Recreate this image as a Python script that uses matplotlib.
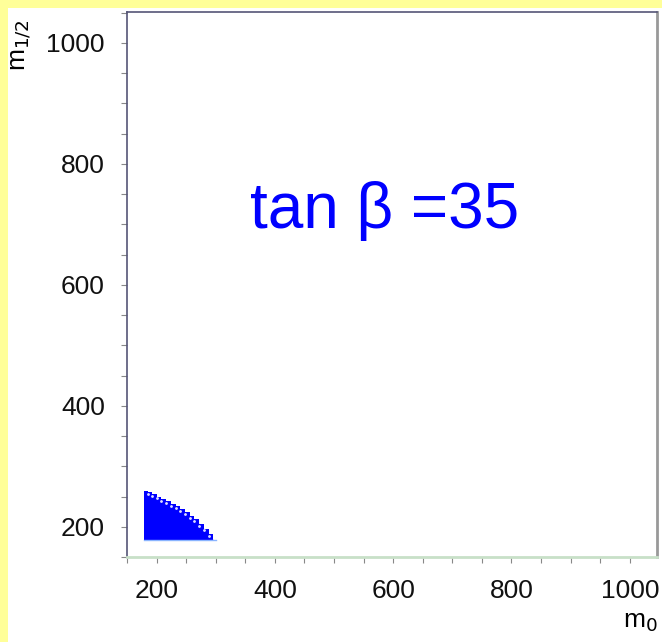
import numpy as np
import matplotlib.pyplot as plt
from matplotlib.patches import Rectangle
from matplotlib.ticker import MultipleLocator

# allowed region boundary (upper edge of the filled area)
m0_edge = [178, 185, 192, 200, 208, 216, 224, 232, 240, 248, 256, 264, 272, 280, 288, 296]
m12_top = [259, 257, 254, 250, 246, 242, 238, 234, 229, 224, 218, 212, 205, 197, 188, 178]
m12_bottom = 178

x_ticks = [200, 400, 600, 800, 1000]
y_ticks = [200, 400, 600, 800, 1000]
x_label = "m$_0$"
y_label = "m$_{1/2}$"
title_text = "tan β =35"

plt.rcParams['font.family'] = ['Liberation Sans', 'DejaVu Sans']

fig = plt.figure(figsize=(6.62, 6.42), dpi=100)
fig.patch.set_facecolor("#ffff99")
# white panel behind the plot
fig.patches.append(Rectangle((8 / 662, 0), 1, 1 - 8 / 642, transform=fig.transFigure,
                             facecolor="white", edgecolor="none", zorder=-1))

ax = fig.add_axes([127 / 662, 85 / 642, 530 / 662, 545 / 642])
ax.set_facecolor("white")

# filled allowed region
ax.fill_between(m0_edge, m12_bottom, m12_top, step="post", color="#0000ff", linewidth=0)
ax.fill_between(m0_edge, m12_bottom, m12_top, color="#0000ff", linewidth=0)
ax.plot(m0_edge[1:-1], np.array(m12_top[1:-1]) - 3, linestyle="none", marker=".",
        markersize=2, color="#ddddff")
ax.plot([178, 301], [m12_bottom, m12_bottom], color="#8ab4ff", linewidth=1)

ax.set_xlim(150, 1046)
ax.set_ylim(150, 1051)
ax.set_xticks(x_ticks)
ax.set_yticks(y_ticks)
ax.xaxis.set_minor_locator(MultipleLocator(50))
ax.yaxis.set_minor_locator(MultipleLocator(50))
ax.tick_params(which="both", direction="out", length=4, width=0.8, colors="#888888",
               labelsize=19, labelcolor="#111111", pad=12)

for side in ["left", "top"]:
    ax.spines[side].set_color("#555577")
    ax.spines[side].set_linewidth(1.2)
ax.spines["top"].set_linestyle((0, (3, 1)))
ax.spines["bottom"].set_color("#c8e0c8")
ax.spines["bottom"].set_linewidth(2)
ax.spines["right"].set_color("#999999")
ax.spines["right"].set_linewidth(2)

ax.text(586, 722, title_text, color="#0000ff", fontsize=46, ha="center", va="center")

fig.text(640 / 662, 1 - 622 / 642, x_label, fontsize=19, ha="center", va="center")
fig.text(22 / 662, 1 - 45 / 642, y_label, fontsize=19, ha="center", va="center", rotation=90)

fig.savefig("out.png", dpi=100, facecolor=fig.get_facecolor())
